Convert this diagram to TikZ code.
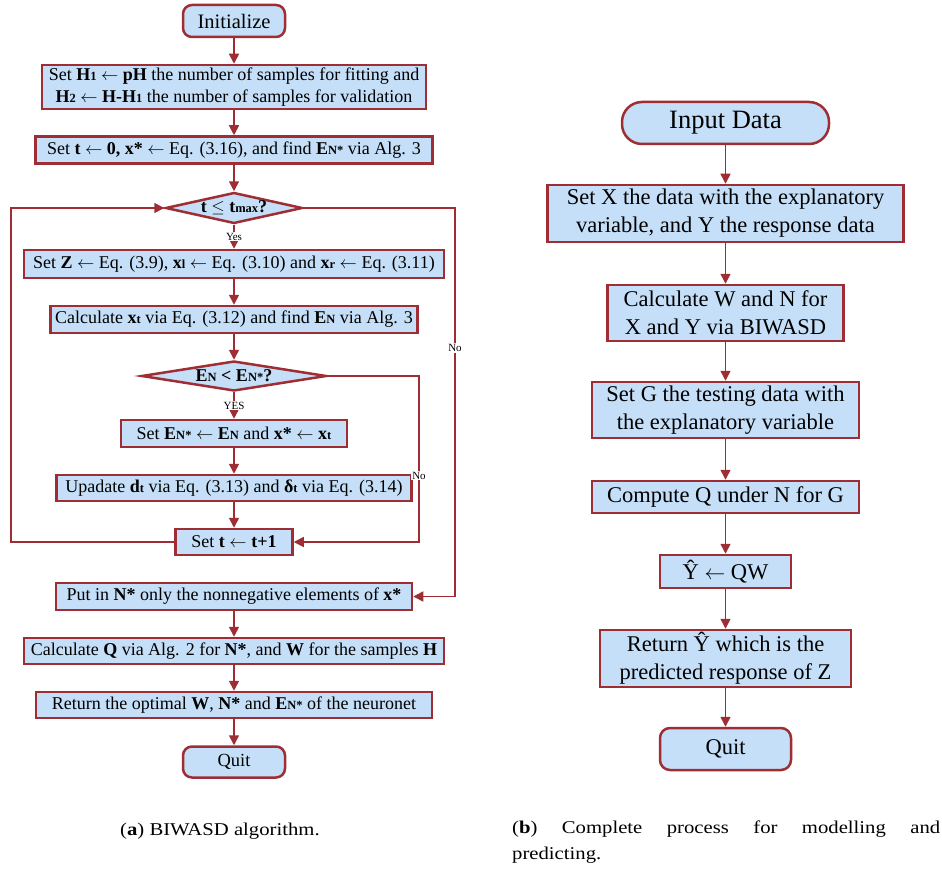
\documentclass[tikz,border=0pt]{standalone}
\usepackage{fontspec}
\setmainfont{Liberation Serif}
\newfontfamily\capfont[FakeStretch=1.15]{Liberation Serif}
\usetikzlibrary{arrows.meta,shapes.geometric,shapes.misc}
\definecolor{bfill}{RGB}{197,223,248}
\definecolor{bline}{RGB}{158,46,52}
\newcommand{\sm}[1]{{\fontsize{12.5}{12.5}\selectfont #1}}
\begin{document}
\begin{tikzpicture}[x=1pt,y=-1pt,
  box/.style={draw=bline,fill=bfill,line width=2.5pt,inner sep=0pt,align=center,font=\fontsize{18}{22}\selectfont},
  bigbox/.style={box,font=\fontsize{22.5}{28}\selectfont},
  term/.style={box,rounded corners=9pt},
  dia/.style={diamond,draw=bline,fill=bfill,line width=2.5pt,inner sep=0pt,font=\fontsize{18}{20}\selectfont\bfseries},
  arr/.style={draw=bline,line width=1.6pt,-{Triangle[length=10pt,width=10pt]}},
  lbl/.style={fill=white,inner sep=1pt,font=\fontsize{11}{11}\selectfont}
]
\useasboundingbox (0,0) rectangle (942,869);
% ---------- left chart ----------
\node[term,minimum width=102pt,minimum height=32pt,font=\fontsize{20.5}{22}\selectfont] (init) at (234,21) {Initialize};
\node[box,minimum width=384pt,minimum height=44pt] (a1) at (234,87) {Set \textbf{H\sm{1}} $\leftarrow$ \textbf{pH} the number of samples for fitting and\\\textbf{H\sm{2}} $\leftarrow$ \textbf{H-H\sm{1}} the number of samples for validation};
\node[box,minimum width=397pt,minimum height=27pt] (a2) at (234,150) {Set \textbf{t} $\leftarrow$ \textbf{0, x*} $\leftarrow$ Eq. (3.16), and find \textbf{E\sm{N*}} via Alg. 3};
\node[dia,aspect=4.4,minimum width=137pt,minimum height=31pt] (d1) at (234,208) {t $\leq$ t\sm{max}?};
\node[box,minimum width=420pt,minimum height=28pt] (a3) at (234,264) {Set \textbf{Z} $\leftarrow$ Eq. (3.9), \textbf{x\sm{l}} $\leftarrow$ Eq. (3.10) and \textbf{x\sm{r}} $\leftarrow$ Eq. (3.11)};
\node[box,minimum width=367pt,minimum height=27pt] (a4) at (234,319.5) {Calculate \textbf{x\sm{t}} via Eq. (3.12) and find \textbf{E\sm{N}} via Alg. 3};
\node[dia,aspect=6.1,minimum width=185pt,minimum height=30pt] (d2) at (234,376) {E\sm{N} < E\sm{N*}?};
\node[box,minimum width=226pt,minimum height=27pt] (a5) at (234,433.5) {Set \textbf{E\sm{N*}} $\leftarrow$ \textbf{E\sm{N}} and \textbf{x*} $\leftarrow$ \textbf{x\sm{t}}};
\node[box,minimum width=355pt,minimum height=26pt] (a6) at (234,488) {Upadate \textbf{d\sm{t}} via Eq. (3.13) and \textbf{δ\sm{t}} via Eq. (3.14)};
\node[box,minimum width=117pt,minimum height=26pt] (a7) at (234,542) {Set \textbf{t} $\leftarrow$ \textbf{t+1}};
\node[box,minimum width=356pt,minimum height=27pt] (a8) at (234,596.5) {Put in \textbf{N*} only the nonnegative elements of \textbf{x*}};
\node[box,minimum width=420pt,minimum height=26pt] (a9) at (234,651) {Calculate \textbf{Q} via Alg. 2 for \textbf{N*}, and \textbf{W} for the samples \textbf{H}};
\node[box,minimum width=396pt,minimum height=26pt] (a10) at (234,705) {Return the optimal \textbf{W}, \textbf{N*} and \textbf{E\sm{N*}} of the neuronet};
\node[term,minimum width=102pt,minimum height=31pt,font=\fontsize{18.5}{20}\selectfont] (quita) at (234,762) {Quit};
\coordinate (lw) at (11,542);
\coordinate (lwtop) at (11,208);
\coordinate (n2a) at (419,376);
\coordinate (n2b) at (419,542);
\coordinate (n1a) at (455,208);
\coordinate (n1b) at (455,596.5);
\draw[arr] (init) -- (a1);
\draw[arr] (a1) -- (a2);
\draw[arr] (a2) -- (d1);
\draw[arr] (d1) -- node[lbl,pos=0.5]{Yes} (a3);
\draw[arr] (a3) -- (a4);
\draw[arr] (a4) -- (d2);
\draw[arr] (d2) -- node[lbl,pos=0.5]{YES} (a5);
\draw[arr] (a5) -- (a6);
\draw[arr] (a6) -- (a7);
\draw[arr] (a7.west) -- (lw) -- (lwtop) -- (d1.west);
\draw[arr] (d2.east) -- (n2a) -- node[lbl,pos=0.6]{No} (n2b) -- (a7.east);
\draw[arr] (d1.east) -- (n1a) -- node[lbl,pos=0.36]{No} (n1b) -- (a8.east);
\draw[arr] (a8) -- (a9);
\draw[arr] (a9) -- (a10);
\draw[arr] (a10) -- (quita);
% ---------- right chart ----------
\node[bigbox,rounded corners=20pt,minimum width=207pt,minimum height=42pt,font=\fontsize{26.5}{30}\selectfont] (inp) at (725.5,123) {Input Data};
\node[bigbox,minimum width=356pt,minimum height=57pt] (b1) at (725.5,213.5) {Set X the data with the explanatory\\variable, and Y the response data};
\node[bigbox,minimum width=236pt,minimum height=56pt] (b2) at (725.5,313) {Calculate W and N for\\X and Y via BIWASD};
\node[bigbox,minimum width=267pt,minimum height=56pt] (b3) at (725.5,410) {Set G the testing data with\\the explanatory variable};
\node[bigbox,minimum width=267pt,minimum height=32pt] (b4) at (725.5,497) {Compute Q under N for G};
\node[bigbox,minimum width=131pt,minimum height=33pt] (b5) at (725.5,571.5) {Ŷ $\leftarrow$ QW};
\node[bigbox,minimum width=251pt,minimum height=57pt] (b6) at (725.5,658.5) {Return Ŷ which is the\\predicted response of Z};
\node[bigbox,rounded corners=10pt,minimum width=131pt,minimum height=42pt] (quitb) at (725.5,749) {Quit};
\draw[arr] (inp) -- (b1);
\draw[arr] (b1) -- (b2);
\draw[arr] (b2) -- (b3);
\draw[arr] (b3) -- (b4);
\draw[arr] (b4) -- (b5);
\draw[arr] (b5) -- (b6);
\draw[arr] (b6) -- (quitb);
% ---------- captions ----------
\node[anchor=west,inner sep=0pt,font=\capfont\fontsize{18}{20}\selectfont] (capa) at (120,831) {(\textbf{a}) BIWASD algorithm.};
\node[anchor=north west,inner sep=0pt,text width=428pt,align=justify,font=\capfont\fontsize{18}{26}\selectfont] (capb) at (512,821) {(\textbf{b}) Complete process for modelling and\linebreak predicting.};
\end{tikzpicture}
\end{document}
